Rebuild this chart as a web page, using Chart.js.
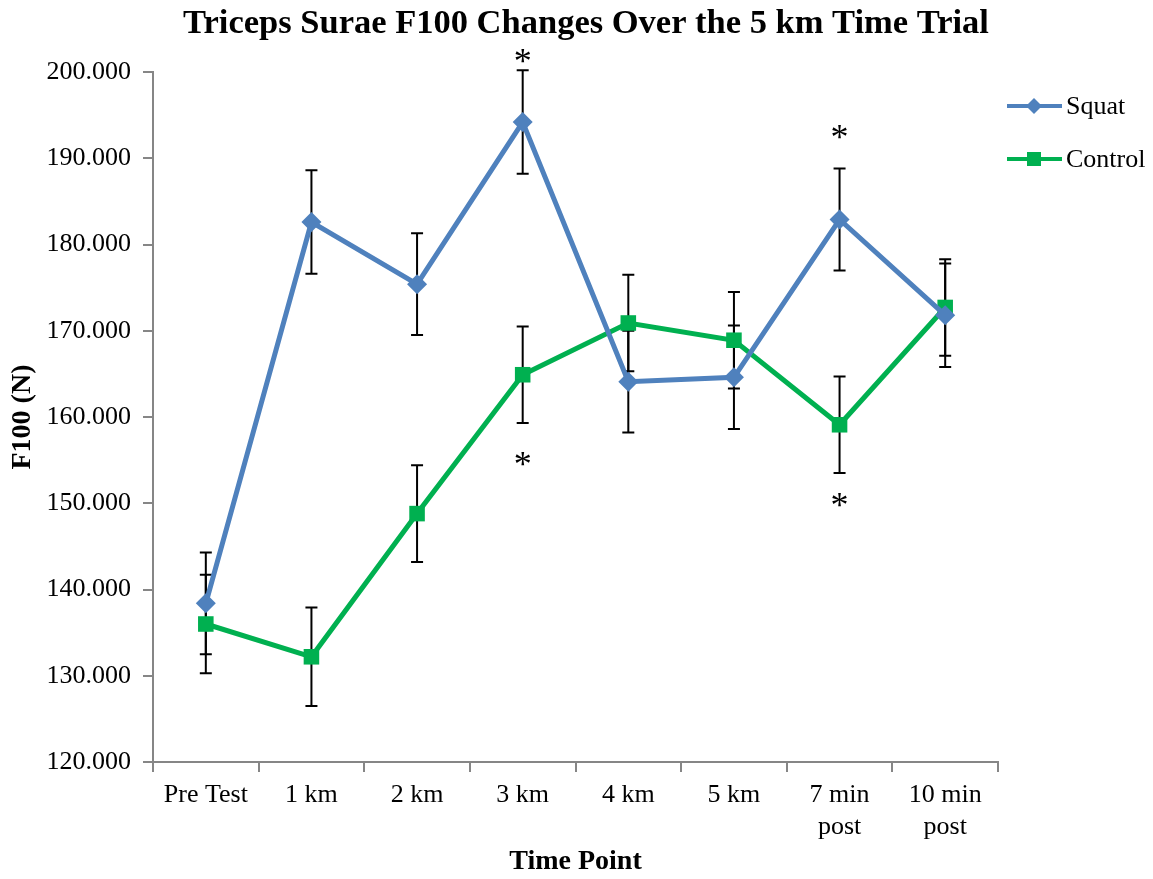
<!DOCTYPE html>
<html>
<head>
<meta charset="utf-8">
<script src="https://cdn.jsdelivr.net/npm/chart.js@4.4.0/dist/chart.umd.min.js"></script>
<style>
  html, body { margin: 0; padding: 0; background: #fff; }
  #wrap { width: 1153px; height: 879px; }
</style>
</head>
<body>
<div id="wrap"><canvas id="chart" width="1153" height="879"></canvas></div>
<script>
// data
const timePoints = ['Pre Test', '1 km', '2 km', '3 km', '4 km', '5 km', ['7 min', 'post'], ['10 min', 'post']]
const squat = [138.4, 182.6, 175.4, 194.2, 164.1, 164.6, 182.9, 171.8]
const squatErr = [5.9, 6.0, 5.9, 6.0, 5.9, 6.0, 5.9, 6.0]
const control = [136.0, 132.2, 148.8, 164.9, 170.9, 168.9, 159.1, 172.7]
const controlErr = [5.7, 5.7, 5.6, 5.6, 5.6, 5.6, 5.6, 5.6]
// asterisks: [index, value]
const stars = [[3, 201.6], [3, 154.8], [6, 192.7], [6, 150.1]]

const serif = "'Liberation Serif', 'Times New Roman', serif"
const blue = '#4F81BD'
const green = '#00B050'
const axisGray = '#868686'

// error bars, drawn under the lines
const errorBars = {
  id: 'errorBars',
  beforeDatasetsDraw(chart) {
    const ctx = chart.ctx
    const x = chart.scales.x, y = chart.scales.y
    const sets = [[squat, squatErr], [control, controlErr]]
    ctx.save()
    ctx.strokeStyle = '#000'
    ctx.lineWidth = 2
    sets.forEach(([vals, errs]) => {
      vals.forEach((v, i) => {
        const px = x.getPixelForValue(i)
        const top = y.getPixelForValue(v + errs[i])
        const bot = y.getPixelForValue(v - errs[i])
        ctx.beginPath()
        ctx.moveTo(px, top); ctx.lineTo(px, bot)
        ctx.moveTo(px - 6, top); ctx.lineTo(px + 6, top)
        ctx.moveTo(px - 6, bot); ctx.lineTo(px + 6, bot)
        ctx.stroke()
      })
    })
    ctx.restore()
  }
}

// title, asterisks and legend
const extras = {
  id: 'extras',
  afterDraw(chart) {
    const ctx = chart.ctx
    const x = chart.scales.x, y = chart.scales.y
    ctx.save()
    ctx.fillStyle = '#000'
    ctx.textAlign = 'center'
    ctx.textBaseline = 'middle'
    ctx.font = 'bold 34.5px ' + serif
    ctx.fillText('Triceps Surae F100 Changes Over the 5 km Time Trial', 586, 24)

    ctx.font = '36px ' + serif
    stars.forEach(([i, v]) => {
      ctx.fillText('*', x.getPixelForValue(i), y.getPixelForValue(v) + 5)
    })

    // legend
    const items = [
      { label: 'Squat', color: blue, shape: 'diamond', y: 106 },
      { label: 'Control', color: green, shape: 'square', y: 159 }
    ]
    items.forEach(it => {
      ctx.strokeStyle = it.color
      ctx.lineWidth = 4
      ctx.beginPath()
      ctx.moveTo(1007, it.y); ctx.lineTo(1062, it.y)
      ctx.stroke()
      ctx.fillStyle = it.color
      const cx = 1034
      if (it.shape === 'diamond') {
        ctx.beginPath()
        ctx.moveTo(cx, it.y - 8); ctx.lineTo(cx + 8, it.y); ctx.lineTo(cx, it.y + 8); ctx.lineTo(cx - 8, it.y)
        ctx.closePath(); ctx.fill()
      } else {
        ctx.fillRect(cx - 7, it.y - 7, 14, 14)
      }
      ctx.fillStyle = '#000'
      ctx.textAlign = 'left'
      ctx.font = '26px ' + serif
      ctx.fillText(it.label, 1066, it.y + 1)
    })
    ctx.restore()
  }
}

const config = {
  type: 'line',
  data: {
    labels: timePoints,
    datasets: [
      {
        label: 'Squat',
        data: squat,
        borderColor: blue,
        backgroundColor: blue,
        borderWidth: 5,
        pointStyle: 'rectRot',
        pointRadius: 10,
        pointBorderWidth: 0,
        tension: 0
      },
      {
        label: 'Control',
        data: control,
        borderColor: green,
        backgroundColor: green,
        borderWidth: 5,
        pointStyle: 'rect',
        pointRadius: 11,
        pointBorderWidth: 0,
        tension: 0
      }
    ]
  },
  options: {
    responsive: false,
    animation: false,
    layout: { padding: { top: 72, right: 155, left: 0, bottom: 0 } },
    plugins: {
      legend: { display: false },
      title: { display: false },
      tooltip: { enabled: false }
    },
    scales: {
      x: {
        offset: true,
        grid: { offset: true, drawOnChartArea: false, color: axisGray, lineWidth: 2, tickLength: 10 },
        border: { color: axisGray, width: 2 },
        ticks: { color: '#000', font: { family: serif, size: 26 }, padding: 8, maxRotation: 0, autoSkip: false },
        title: { display: true, text: 'Time Point', color: '#000', font: { family: serif, size: 28, weight: 'bold' }, padding: { top: 4, bottom: 0 } },
        afterFit(scale) { scale.height = 117 }
      },
      y: {
        min: 120,
        max: 200,
        ticks: {
          stepSize: 10,
          color: '#000',
          font: { family: serif, size: 26 },
          padding: 12,
          callback: v => v.toFixed(3)
        },
        grid: { drawOnChartArea: false, color: axisGray, lineWidth: 2, tickLength: 10 },
        border: { color: axisGray, width: 2 },
        title: { display: true, text: 'F100 (N)', color: '#000', font: { family: serif, size: 28, weight: 'bold' }, padding: { top: 6, bottom: 0 } },
        afterFit(scale) { scale.width = 153 }
      }
    }
  },
  plugins: [errorBars, extras]
}

const myChart = new Chart(document.getElementById('chart'), config)
</script>
</body>
</html>
